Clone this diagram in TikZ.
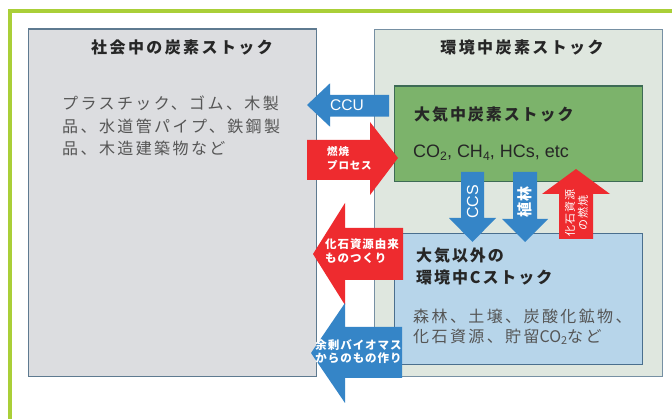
\documentclass[tikz,border=0pt]{standalone}
\usepackage{fontspec}
\setmainfont{Noto Sans CJK JP}
\newfontfamily\jpls[LetterSpace=12]{Noto Sans CJK JP}
\newfontfamily\jplt[LetterSpace=15]{Noto Sans CJK JP}
\newfontfamily\jpsm[LetterSpace=8]{Noto Sans CJK JP}
\newfontfamily\lat{Liberation Sans}
\definecolor{frameg}{HTML}{AACF38}
\definecolor{socfill}{HTML}{DCDDE0}
\definecolor{socline}{HTML}{5E7A90}
\definecolor{envfill}{HTML}{DFE7DF}
\definecolor{envline}{HTML}{7690A3}
\definecolor{atmfill}{HTML}{7CB36B}
\definecolor{atmline}{HTML}{3D6B55}
\definecolor{nonfill}{HTML}{B7D5EA}
\definecolor{nonline}{HTML}{4A6F8E}
\definecolor{arrblue}{HTML}{3585C7}
\definecolor{arrred}{HTML}{EE2B2F}
\definecolor{txtdark}{HTML}{262626}
\definecolor{txtgray}{HTML}{555555}
\newcommand{\mysub}[1]{\raisebox{-0.28ex}{\scalebox{0.68}{#1}}}
\tikzset{
  boxnode/.style={anchor=north west, inner sep=0pt, line width=1.2pt},
  bigtitle/.style={font=\jplt\bfseries\fontsize{16}{18}\selectfont, text=txtdark, inner sep=0pt},
  bodyline/.style={font=\jplt\fontsize{16}{18}\selectfont, text=txtgray, inner sep=0pt, anchor=west},
  boldline/.style={font=\jpls\bfseries\fontsize{16}{18}\selectfont, text=txtdark, inner sep=0pt, anchor=west},
  smalllab/.style={font=\jpsm\bfseries\fontsize{11.5}{13.5}\selectfont, text=white, inner sep=0pt, align=left},
  bluearrow/.style={fill=arrblue},
  redarrow/.style={fill=arrred}
}
\begin{document}
\begin{tikzpicture}[x=1pt,y=-1pt]
\useasboundingbox (0,0) rectangle (672,419);
\fill[white] (0,0) rectangle (672,419);
% green frame
\draw[frameg, line width=3.8pt] (10.2,419) -- (10.2,11.3) -- (672,11.3);
% boxes
\node (soc) [boxnode, draw=socline, fill=socfill, minimum width=288.5pt, minimum height=347.5pt] at (27.5,28.5) {};
\node (env) [boxnode, draw=envline, fill=envfill, minimum width=288pt, minimum height=347pt] at (374,29) {};
\node (atm) [boxnode, draw=atmline, fill=atmfill, minimum width=248pt, minimum height=95.5pt] at (394,85.5) {};
\node (non) [boxnode, draw=nonline, fill=nonfill, minimum width=248pt, minimum height=131pt] at (394,233) {};
% titles
\node (soct) [bigtitle] at (182,47) {社会中の炭素ストック};
\node (envt) [bigtitle] at (522,47) {環境中炭素ストック};
% society body
\node (g1) [bodyline] at (62,103) {プラスチック、ゴム、木製};
\node (g2) [bodyline] at (62,126) {品、水道管パイプ、鉄鋼製};
\node (g3) [bodyline] at (62,148.5) {品、木造建築物など};
% atmosphere
\node (atmt) [boldline] at (414,115) {大気中炭素ストック};
\node (atmg) [anchor=west, inner sep=0pt, font=\lat\fontsize{18}{20}\selectfont, text=txtdark] at (413,152.5) {CO\mysub{2}, CH\mysub{4}, HCs, etc};
% non-atmosphere
\node (nont1) [boldline] at (416,256) {大気以外の};
\node (nont2) [boldline] at (416,277) {環境中Cストック};
\node (non1) [bodyline] at (413,316) {森林、土壌、炭酸化鉱物、};
\node (non2) [bodyline] at (413,336.5) {化石資源、貯留{\addfontfeature{LetterSpace=0}CO\mysub{2}}など};
% arrows
\fill[bluearrow] (307,105) -- (330,83.3) -- (330,95) -- (389,95) -- (389,116.7) -- (330,116.7) -- (330,126.7) -- cycle;
\fill[redarrow] (398,158) -- (370,122) -- (370,140) -- (307,140) -- (307,180) -- (370,180) -- (370,195) -- cycle;
\fill[redarrow] (313,254) -- (345,203) -- (345,228) -- (403,228) -- (403,280) -- (345,280) -- (345,305) -- cycle;
\fill[bluearrow] (311,353) -- (345,303) -- (345,327) -- (402,327) -- (402,378) -- (345,378) -- (345,403) -- cycle;
\fill[bluearrow] (461,172) -- (484,172) -- (484,218) -- (496,218) -- (472.5,242) -- (449,218) -- (461,218) -- cycle;
\fill[bluearrow] (513,172) -- (537,172) -- (537,219) -- (548,219) -- (525,242) -- (502,219) -- (513,219) -- cycle;
\fill[redarrow] (559,239) -- (593,239) -- (593,194) -- (610,194) -- (576,169) -- (542,194) -- (559,194) -- cycle;
% arrow labels
\node (ccu) [inner sep=0pt, font=\lat\fontsize{15.5}{17}\selectfont, text=white] at (347,105) {CCU};
\node (burn) [smalllab, font=\jpsm\bfseries\fontsize{10.5}{14}\selectfont, anchor=west] at (327,158) {燃焼\\プロセス};
\node (fos) [smalllab, anchor=west] at (325,251) {化石資源由来\\ものつくり};
\node (bio) [smalllab, align=center] at (358.5,351.5) {余剰バイオマス\\からのもの作り};
\node (ccs) [inner sep=0pt, rotate=90, font=\lat\fontsize{16}{18}\selectfont, text=white] at (472.5,202) {CCS};
\node (aff) [inner sep=0pt, rotate=90, font=\jpsm\bfseries\fontsize{15}{17}\selectfont, text=white] at (525,202) {植林};
\node (fburn) [inner sep=0pt, rotate=90, align=center, font=\jpsm\fontsize{11}{13}\selectfont, text=white] at (576.5,213) {化石資源\\の燃焼};
\end{tikzpicture}
\end{document}
